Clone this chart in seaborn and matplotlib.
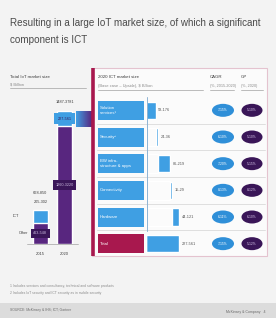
import numpy as np
import pandas as pd
import matplotlib
matplotlib.use("Agg")
import matplotlib.pyplot as plt
import seaborn as sns
from matplotlib.patches import Rectangle, Ellipse
from matplotlib.colors import LinearSegmentedColormap
from matplotlib import font_manager

# ---------------- data ----------------
years = ["2015", "2020"]
ict_value = [250, 300]
other_value = [420, 2330]
total_labels = ["668-850", "1487-3781"]
ict_labels = ["205-302", "227-561"]
other_labels = ["463-548", "1260-3220"]

segments = ["Solution\nservices¹", "Security²", "BW infra-\nstructure & apps",
            "Connectivity", "Hardware", "Total"]
seg_value = [117, 30, 152, 22, 82]
seg_labels = ["58-176", "24-36", "86-219", "15-29", "44-121", "227-561"]
cagr_labels = ["7-15%", "6-10%", "7-20%", "8-13%", "6-11%", "7-15%"]
gp_labels = ["5-10%", "5-10%", "5-15%", "8-12%", "6-10%", "5-12%"]

# ---------------- style ----------------
sns.set_theme(style="white")
names = {f.name for f in font_manager.fontManager.ttflist}
if "Liberation Sans Narrow" in names:
    plt.rcParams["font.family"] = ["Liberation Sans Narrow", "DejaVu Sans"]
    k = 1.0
    tk = 1.0
else:
    plt.rcParams["font.family"] = ["Liberation Sans", "DejaVu Sans"]
    k = 0.84
    tk = 0.98

BLUE = "#3f9fe3"
PURPLE = "#58267f"
DARK = "#3a1658"
CRIMSON = "#a8184e"
BOXFACE = "#fbfbfb"
TXT = "#3c3c3c"
GREY = "#8a8a8a"

W, H = 276, 318
fig = plt.figure(figsize=(W / 100, H / 100), dpi=100)
fig.patch.set_facecolor("#f3f3f3")

bg = fig.add_axes([0, 0, 1, 1], zorder=0)
bg.axis("off")

# title
bg.text(10, 23, "Resulting in a large IoT market size, of which a significant",
        fontsize=7.3 * tk, color="#4a4a4a", va="center", ha="left")
bg.text(10, 40, "component is ICT", fontsize=7.3 * tk, color="#4a4a4a",
        va="center", ha="left")

# left header
bg.text(10, 77, "Total IoT market size", fontsize=3.8 * k, color=TXT, va="center")
bg.text(10, 84, "$ Billion", fontsize=3.4 * k, color=GREY, va="center")
bg.plot([10, 86], [88, 88], color="#b0b0b0", lw=0.6)

# right box
bg.add_patch(Rectangle((92, 68), 175, 188, fc=BOXFACE, ec="#e4c3cf", lw=0.8))
bg.plot([93, 93], [68, 256], color=CRIMSON, lw=2.6, solid_capstyle="butt")

# connector band
cm = LinearSegmentedColormap.from_list("band", [BLUE, PURPLE])
bg.imshow(np.linspace(0, 1, 64).reshape(1, -1), cmap=cm,
          extent=(76, 92, 127, 111), aspect="auto", zorder=1)

bg.text(98, 77, "2020 ICT market size", fontsize=3.8 * k, color=TXT, va="center")
bg.text(98, 86, "(Base case – Upside), $ Billion", fontsize=3.4 * k, color=GREY, va="center")
bg.plot([98, 203], [90, 90], color="#b0b0b0", lw=0.6)
bg.text(210, 77, "CAGR", fontsize=3.8 * k, color=TXT, va="center")
bg.text(210, 86, "(%, 2015-2020)", fontsize=3.2 * k, color=GREY, va="center")
bg.plot([210, 234], [90, 90], color="#b0b0b0", lw=0.6)
bg.text(241, 77, "GP", fontsize=3.8 * k, color=TXT, va="center")
bg.text(241, 86, "(%, 2020)", fontsize=3.2 * k, color=GREY, va="center")
bg.plot([241, 263], [90, 90], color="#b0b0b0", lw=0.6)

row_top = 97
row_h = (257 - 97) / len(segments)
for i in range(1, len(segments)):
    y = row_top + i * row_h
    bg.plot([97, 265], [y, y], color="#dadada", lw=0.6)

# footnotes and footer
bg.text(10, 286, "1 Includes services and consultancy, technical and software products",
        fontsize=2.9 * k, color=GREY, va="center")
bg.text(10, 293, "2 Includes IoT security and ICT security as in mobile security",
        fontsize=2.9 * k, color=GREY, va="center")
bg.add_patch(Rectangle((0, 303), W, 15, fc="#dcdcdc", ec="none"))
bg.text(10, 310, "SOURCE: McKinsey & IHS; ICT; Gartner", fontsize=2.9 * k,
        color="#6a6a6a", va="center")
bg.text(266, 312, "McKinsey & Company   4", fontsize=3.0 * k, color="#6a6a6a",
        va="center", ha="right")
bg.set_xlim(0, W)
bg.set_ylim(H, 0)

# ---------------- left stacked bars ----------------
df1 = pd.DataFrame({"year": years, "ict": ict_value, "other": other_value})
df1["total"] = df1["ict"] + df1["other"]

ax1 = fig.add_axes([16 / W, 1 - 244 / H, 73 / W, 144 / H], zorder=2)
ax1.patch.set_alpha(0)
sns.barplot(data=df1, x="year", y="total", color=BLUE, width=0.6,
            saturation=1, ax=ax1)
sns.barplot(data=df1, x="year", y="other", color=PURPLE, width=0.6,
            saturation=1, ax=ax1)
ax1.set_xlim(-1, 2)
ax1.set_ylim(0, 2848)
ax1.axis("off")

for i, row in df1.iterrows():
    tot, ict, oth = row["total"], row["ict"], row["other"]
    ax1.annotate(years[i], xy=(i, 0), xytext=(0, -7.5), textcoords="offset points",
                 ha="center", va="center", fontsize=3.5 * k, color=TXT)
    ax1.text(i, oth / 2, other_labels[i], ha="center", va="center",
             fontsize=3.2 * k, color="#cdbde0",
             bbox=dict(boxstyle="square,pad=%s" % (0.75 if i == 0 else 0.7),
                       fc=DARK, ec="none"))
    if i == 0:
        ax1.annotate(total_labels[i], xy=(i, tot), xytext=(0, 12),
                     textcoords="offset points", ha="center", va="center",
                     fontsize=3.3 * k, color=TXT)
        ax1.annotate(ict_labels[i], xy=(i, tot), xytext=(0, 6),
                     textcoords="offset points", ha="center", va="center",
                     fontsize=3.3 * k, color=TXT)
        ax1.annotate("ICT", xy=(i - 0.31, oth + ict / 2), xytext=(-10, 0),
                     textcoords="offset points", ha="right", va="center",
                     fontsize=3.3 * k, color=TXT)
        ax1.annotate("Other", xy=(i - 0.31, oth / 2), xytext=(-3, 0),
                     textcoords="offset points", ha="right", va="center",
                     fontsize=3.3 * k, color=TXT)
    else:
        ax1.annotate(total_labels[i], xy=(i, tot), xytext=(0, 6.5),
                     textcoords="offset points", ha="center", va="center",
                     fontsize=3.3 * k, color=TXT)
        ax1.text(i, oth + ict / 2, ict_labels[i], ha="center", va="center",
                 fontsize=3.2 * k, color=DARK,
                 bbox=dict(boxstyle="square,pad=1.0", fc=BLUE, ec="none"))

ax1.plot([-0.55, 1.55], [0, 0], color="#b0b0b0", lw=0.6, clip_on=False)

# ---------------- right waterfall ----------------
ends = list(np.cumsum(seg_value)) + [float(np.sum(seg_value))]
starts = [e - v for e, v in zip(ends[:-1], seg_value)] + [0.0]
df2 = pd.DataFrame({"segment": segments, "end": ends, "start": starts})

ax2 = fig.add_axes([146 / W, 1 - 257 / H, 60 / W, 160 / H], zorder=2)
ax2.patch.set_alpha(0)
sns.barplot(data=df2, y="segment", x="end", color=BLUE, orient="h",
            width=0.64, saturation=1, ax=ax2)
sns.barplot(data=df2, y="segment", x="start", color=BOXFACE, orient="h",
            width=0.7, saturation=1, ax=ax2)
ax2.set_xlim(0, 60 * 403 / 33)
ax2.set_ylim(len(segments) - 0.5, -0.5)
ax2.axis("off")
for i, (e, lab) in enumerate(zip(ends, seg_labels)):
    ax2.annotate(lab, xy=(e, i), xytext=(2, 0), textcoords="offset points",
                 ha="left", va="center", fontsize=3.3 * k, color="#555555")

# ---------------- overlay: row labels, ellipses ----------------
ov = fig.add_axes([0, 0, 1, 1], zorder=5)
ov.patch.set_alpha(0)
ov.axis("off")
ov.plot([147, 147], [97, 231], color="#8fb3d3", lw=0.7)
for i, seg in enumerate(segments):
    yc = row_top + (i + 0.5) * row_h
    col = CRIMSON if seg == "Total" else BLUE
    ov.add_patch(Rectangle((98, yc - 9.5), 46, 19, fc=col, ec="none"))
    ov.text(100, yc, seg, fontsize=3.6 * k, color="white", ha="left",
            va="center", linespacing=1.15)
    ov.add_patch(Ellipse((223, yc), 22, 13, fc="#2f8fd8", ec="none"))
    ov.text(223, yc, cagr_labels[i], fontsize=2.9 * k, color="white",
            ha="center", va="center")
    ov.add_patch(Ellipse((252, yc), 21, 13, fc=DARK, ec="none"))
    ov.text(252, yc, gp_labels[i], fontsize=2.9 * k, color="#d8c8ea",
            ha="center", va="center")
ov.set_xlim(0, W)
ov.set_ylim(H, 0)

fig.savefig("out.png", dpi=100, facecolor=fig.get_facecolor())
